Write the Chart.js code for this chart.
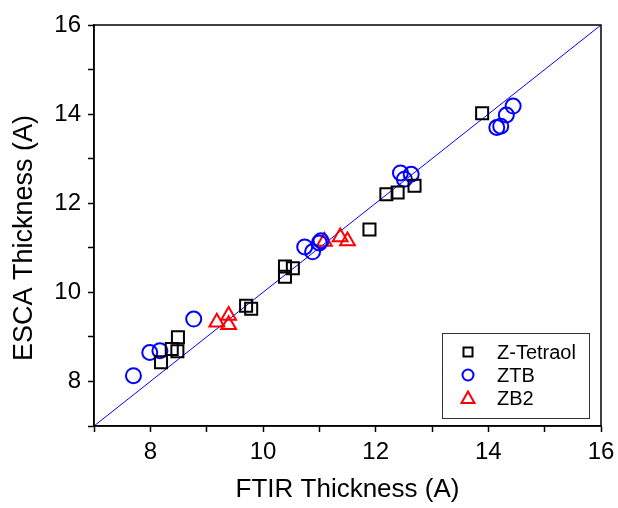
<!DOCTYPE html>
<html>
<head>
<meta charset="utf-8">
<title>ESCA vs FTIR Thickness</title>
<script src="https://cdn.jsdelivr.net/npm/chart.js"></script>
<style>
  body { margin: 0; background: #fff; }
  #wrap { width: 618px; height: 508px; }
</style>
</head>
<body>
<div id="wrap"><canvas id="chart"></canvas></div>
<script>
// Data
const tetraolX = [8.19, 8.38, 8.48, 8.49, 9.70, 9.79, 10.39, 10.39, 10.53, 11.89, 12.19, 12.39, 12.69, 13.89];
const tetraolY = [8.43, 8.73, 8.68, 8.99, 9.70, 9.63, 10.58, 10.35, 10.54, 11.41, 12.20, 12.24, 12.39, 14.02];
const ztbX = [7.70, 7.99, 8.17, 8.77, 10.74, 10.88, 11.00, 11.03, 12.44, 12.51, 12.63, 14.15, 14.22, 14.32, 14.44];
const ztbY = [8.13, 8.65, 8.69, 9.40, 11.02, 10.91, 11.11, 11.16, 12.68, 12.54, 12.65, 13.70, 13.73, 13.98, 14.18];
const zb2X = [9.18, 9.39, 9.39, 11.09, 11.37, 11.50];
const zb2Y = [9.33, 9.48, 9.27, 11.14, 11.24, 11.15];
const diagonal = [7, 16];
const seriesNames = ['Z-Tetraol', 'ZTB', 'ZB2'];
const xTitle = 'FTIR Thickness (A)';
const yTitle = 'ESCA Thickness (A)';

const FONT = "'Liberation Sans', Arial, sans-serif";

function pts(xs, ys) {
  return xs.map((x, i) => ({ x: x, y: ys[i] }));
}

// frame, y title and legend box drawn on top of the chart
const framePlugin = {
  id: 'frame',
  afterDraw(chart) {
    const ctx = chart.ctx;
    const a = chart.chartArea;
    ctx.save();
    ctx.strokeStyle = '#000';
    ctx.lineWidth = 1.5;
    ctx.strokeRect(a.left, a.top, a.right - a.left, a.bottom - a.top);

    // y axis title (sits a bit below the plot centre in the original)
    ctx.save();
    ctx.translate(25, 238);
    ctx.rotate(-Math.PI / 2);
    ctx.font = '27px ' + FONT;
    ctx.textAlign = 'center';
    ctx.textBaseline = 'middle';
    ctx.fillStyle = '#000';
    ctx.fillText(yTitle, 0, 0);
    ctx.restore();

    // legend
    const bx = 442, by = 333, bw = 147, bh = 85;
    ctx.lineWidth = 1;
    ctx.strokeStyle = '#333';
    ctx.strokeRect(bx + 0.5, by + 0.5, bw, bh);
    ctx.font = '20px ' + FONT;
    ctx.textBaseline = 'middle';
    const rows = [352, 375, 398];
    chart.data.datasets.slice(0, 3).forEach((ds, i) => {
      const cy = rows[i], cx = 468;
      ctx.lineWidth = 2;
      ctx.strokeStyle = ds.borderColor;
      ctx.beginPath();
      if (ds.pointStyle === 'rect') {
        ctx.rect(cx - 4.5, cy - 4.5, 9, 9);
      } else if (ds.pointStyle === 'circle') {
        ctx.arc(cx, cy, 5.5, 0, Math.PI * 2);
      } else {
        ctx.moveTo(cx, cy - 6.5);
        ctx.lineTo(cx + 6.5, cy + 5);
        ctx.lineTo(cx - 6.5, cy + 5);
        ctx.closePath();
      }
      ctx.stroke();
      ctx.fillStyle = '#000';
      ctx.fillText(seriesNames[i], 497, cy + 1);
    });
    ctx.restore();
  }
};

const tickCb = function (v) {
  return v % 2 === 0 ? String(v) : '';
};

new Chart(document.getElementById('chart'), {
  type: 'scatter',
  data: {
    datasets: [
      {
        label: seriesNames[0],
        data: pts(tetraolX, tetraolY),
        pointStyle: 'rect',
        pointRadius: 8.5,
        borderColor: '#000000',
        backgroundColor: 'rgba(0,0,0,0)',
        borderWidth: 2
      },
      {
        label: seriesNames[1],
        data: pts(ztbX, ztbY),
        pointStyle: 'circle',
        pointRadius: 7.5,
        borderColor: '#0000ff',
        backgroundColor: 'rgba(0,0,0,0)',
        borderWidth: 2
      },
      {
        label: seriesNames[2],
        data: pts(zb2X, zb2Y),
        pointStyle: 'triangle',
        pointRadius: 8.5,
        borderColor: '#ff0000',
        backgroundColor: 'rgba(0,0,0,0)',
        borderWidth: 2
      },
      {
        label: 'y = x',
        data: pts(diagonal, diagonal),
        showLine: true,
        pointRadius: 0,
        borderColor: '#0000ff',
        borderWidth: 1
      }
    ]
  },
  options: {
    responsive: true,
    maintainAspectRatio: false,
    animation: false,
    layout: { padding: { top: 25, right: 17, left: 0, bottom: 0 } },
    plugins: {
      legend: { display: false },
      tooltip: { enabled: false }
    },
    scales: {
      x: {
        type: 'linear',
        min: 7,
        max: 16,
        afterFit(s) {
          s.height = 82;
          s.paddingLeft = 0;
          s.paddingRight = 0;
        },
        border: { color: '#000', width: 1.5 },
        grid: { drawOnChartArea: false, drawTicks: true, tickLength: 6, color: '#000', tickWidth: 1.5 },
        ticks: {
          stepSize: 1,
          autoSkip: false,
          maxRotation: 0,
          padding: 6,
          color: '#000',
          font: { family: FONT, size: 24 },
          callback: tickCb
        },
        title: {
          display: true,
          text: xTitle,
          color: '#000',
          font: { family: FONT, size: 26 },
          padding: { top: 0, bottom: 3 }
        }
      },
      y: {
        type: 'linear',
        min: 7,
        max: 16,
        afterFit(s) {
          s.width = 94;
          s.paddingTop = 0;
          s.paddingBottom = 0;
        },
        border: { color: '#000', width: 1.5 },
        grid: { drawOnChartArea: false, drawTicks: true, tickLength: 6, color: '#000', tickWidth: 1.5 },
        ticks: {
          stepSize: 1,
          autoSkip: false,
          padding: 7,
          color: '#000',
          font: { family: FONT, size: 24 },
          callback: tickCb
        }
      }
    }
  },
  plugins: [framePlugin]
});
</script>
</body>
</html>
